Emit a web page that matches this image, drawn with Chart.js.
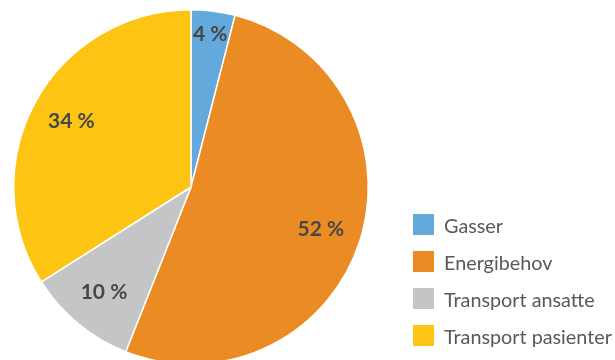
<!DOCTYPE html>
<html>
<head>
<meta charset="utf-8">
<script src="https://cdn.jsdelivr.net/npm/chart.js@4/dist/chart.umd.min.js"></script>
<style>
  html, body { margin: 0; padding: 0; background: #fff; overflow: hidden; }
  #wrap { position: relative; width: 615px; height: 360px; overflow: hidden; }
  #chart { position: absolute; left: 0; top: 0; }
  #legend { position: absolute; left: 413px; top: 206px; font-family: Lato, "Open Sans", sans-serif; font-size: 19.8px; color: #595959; }
  .item { display: flex; align-items: center; height: 37px; white-space: nowrap; }
  .box { width: 21px; height: 21px; margin-right: 10px; flex: none; }
</style>
</head>
<body>
<div id="wrap">
  <canvas id="chart" width="615" height="374"></canvas>
  <div id="legend"></div>
</div>
<script>
const labels = [`Gasser`, `Energibehov`, `Transport ansatte`, `Transport pasienter`];
const shares = [4, 52, 10, 34];
const colors = [`#64A9DB`, `#EB8B23`, `#C4C5C7`, `#FDC414`];

// percentage text inside each slice
const sliceLabels = {
  id: `sliceLabels`,
  afterDatasetsDraw(chart) {
    const ctx = chart.ctx;
    const meta = chart.getDatasetMeta(0);
    ctx.save();
    ctx.font = `bold 21px Lato, "Open Sans", sans-serif`;
    ctx.fillStyle = `#474747`;
    ctx.textAlign = `center`;
    ctx.textBaseline = `middle`;
    meta.data.forEach((arc, i) => {
      const {x, y, startAngle, endAngle, outerRadius} = arc.getProps([`x`, `y`, `startAngle`, `endAngle`, `outerRadius`], true);
      const mid = (startAngle + endAngle) / 2;
      // small slices get their label pushed further out
      const r = outerRadius * (shares[i] < 6 ? 0.87 : 0.77);
      ctx.fillText(`${shares[i]} %`, x + Math.cos(mid) * r, y + Math.sin(mid) * r);
    });
    ctx.restore();
  }
};

new Chart(document.getElementById(`chart`), {
  type: `pie`,
  data: {
    labels,
    datasets: [{
      data: shares,
      backgroundColor: colors,
      borderColor: `#ffffff`,
      borderWidth: 1.5
    }]
  },
  options: {
    responsive: false,
    animation: false,
    layout: {
      padding: {left: 13, top: 9, right: 246, bottom: 9}
    },
    plugins: {
      legend: {display: false},
      tooltip: {enabled: false}
    }
  },
  plugins: [sliceLabels]
});

const legend = document.getElementById(`legend`);
labels.forEach((name, i) => {
  const item = document.createElement(`DIV`);
  item.className = `item`;
  const box = item.appendChild(document.createElement(`SPAN`));
  box.className = `box`;
  box.style.background = colors[i];
  item.appendChild(document.createTextNode(name));
  legend.appendChild(item);
});
</script>
</body>
</html>
